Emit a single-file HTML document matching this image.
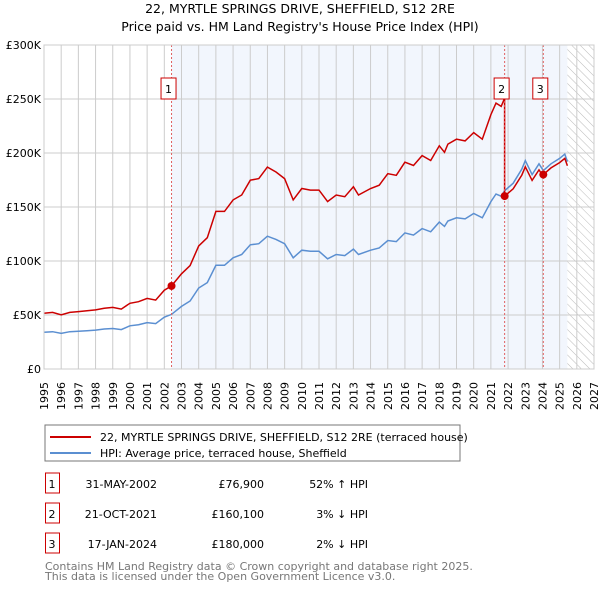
<!DOCTYPE html>
<html><head><meta charset="utf-8"><style>
body{margin:0;background:#fff;font-family:"Liberation Sans","DejaVu Sans",sans-serif}
svg text{font-family:"DejaVu Sans","Liberation Sans",sans-serif}
</style></head><body>
<svg width="600" height="590" xmlns="http://www.w3.org/2000/svg">
<defs><pattern id="hatch" width="6" height="6" patternUnits="userSpaceOnUse" patternTransform="rotate(-45)"><line x1="0" y1="0" x2="0" y2="6" stroke="#bbb" stroke-width="1"/></pattern></defs>
<text x="300" y="13" text-anchor="middle" font-size="12.5">22, MYRTLE SPRINGS DRIVE, SHEFFIELD, S12 2RE</text>
<text x="300" y="31" text-anchor="middle" font-size="12.5">Price paid vs. HM Land Registry's House Price Index (HPI)</text>
<g id="plot"></g>
<rect x="45" y="425" width="415" height="36" fill="#fff" stroke="#777"/>
<line x1="50" y1="437" x2="91" y2="437" stroke="#cc0000" stroke-width="2"/>
<text x="100" y="441" font-size="11">22, MYRTLE SPRINGS DRIVE, SHEFFIELD, S12 2RE (terraced house)</text>
<line x1="50" y1="453" x2="91" y2="453" stroke="#5b8fd1" stroke-width="2"/>
<text x="100" y="457" font-size="11">HPI: Average price, terraced house, Sheffield</text>
<g id="table" font-size="11"></g>
<text x="45" y="570" font-size="11" fill="#777">Contains HM Land Registry data © Crown copyright and database right 2025.</text>
<text x="45" y="580" font-size="11" fill="#777">This data is licensed under the Open Government Licence v3.0.</text>
</svg>
<script>
const hpiYears=[1995,1995.5,1996,1996.5,1997,1997.5,1998,1998.5,1999,1999.5,2000,2000.5,2001,2001.5,2002,2002.42,2003,2003.5,2004,2004.5,2005,2005.5,2006,2006.5,2007,2007.5,2008,2008.5,2009,2009.5,2010,2010.5,2011,2011.5,2012,2012.5,2013,2013.3,2014,2014.5,2015,2015.5,2016,2016.5,2017,2017.5,2018,2018.3,2018.5,2019,2019.5,2020,2020.5,2021,2021.3,2021.6,2021.8,2022.3,2022.8,2023,2023.4,2023.8,2024.05,2024.5,2025,2025.3,2025.45];
const hpiValues=[34,34.5,33,34.5,35,35.5,36,37,37.5,36.5,40,41,43,42,48,50.6,58,63,75,80,96,96,103,106,115,116,123,120,116,103,110,109,109,102,106,105,111,106,110,112,119,118,126,124,130,127,136,132,137,140,139,144,140,155,162,160,165,172,185,193,180,190,183.7,190,195,199,192];
const saleLabels=["1","2","3"];
const saleDates=[2002.42,2021.8,2024.05];
const salePrices=[76.9,160.1,180.0];
const saleDateText=["31-MAY-2002","21-OCT-2021","17-JAN-2024"];
const salePriceText=["£76,900","£160,100","£180,000"];
const saleHpiText=["52% ↑ HPI","3% ↓ HPI","2% ↓ HPI"];
const yTicks=[0,50,100,150,200,250,300];
const yTickLabels=["£0","£50K","£100K","£150K","£200K","£250K","£300K"];
const xMin=1995,xMax=2027,dataEnd=2025.45;
const L=44,R=594,T=45,B=369;
const X=v=>L+(v-xMin)/(xMax-xMin)*(R-L);
const Y=v=>B-v/300*(B-T);
const NS="http://www.w3.org/2000/svg";
const g=document.getElementById('plot');
function mk(t,a,p){const e=document.createElementNS(NS,t);for(const k in a)e.setAttribute(k,a[k]);(p||g).appendChild(e);return e;}
function hpiAt(t){for(let i=1;i<hpiYears.length;i++){if(t<=hpiYears[i]){const f=(t-hpiYears[i-1])/(hpiYears[i]-hpiYears[i-1]);return hpiValues[i-1]+f*(hpiValues[i]-hpiValues[i-1]);}}return hpiValues[hpiValues.length-1];}
let e=mk('rect',{x:X(saleDates[0]),y:T,width:X(dataEnd)-X(saleDates[0]),height:B-T,fill:'#f2f6fd'});

e=mk('rect',{x:X(dataEnd),y:T,width:R-X(dataEnd),height:B-T,fill:'url(#hatch)'});

for(let yr=xMin;yr<=xMax;yr++){e=mk('line',{x1:X(yr),x2:X(yr),y1:T,y2:B,stroke:'#ccc'});
 const wg=mk('g',{transform:'translate('+(X(yr)+4)+',382) rotate(-90)'});
 e=mk('text',{x:0,y:0,'font-size':11,'text-anchor':'end'},wg);e.textContent=yr;}
yTicks.forEach((v,i)=>{e=mk('line',{x1:L,x2:R,y1:Y(v),y2:Y(v),stroke:'#ccc'});
 e=mk('text',{x:L-3,y:Y(v)+4,'font-size':11,'text-anchor':'end'});e.textContent=yTickLabels[i];});
let d=hpiYears.map((t,i)=>(i?'L':'M')+X(t).toFixed(1)+','+Y(hpiValues[i]).toFixed(1)).join('');
e=mk('path',{d:d,fill:'none',stroke:'#5b8fd1','stroke-width':1.5});
const ratios=saleDates.map((t,i)=>salePrices[i]/hpiAt(t));
function ratioAt(t){let r=ratios[0];for(let i=0;i<saleDates.length;i++)if(t>=saleDates[i])r=ratios[i];return r;}
let pts=[];hpiYears.forEach((t,i)=>{pts.push([t,hpiValues[i]*ratioAt(t)]);});
saleDates.forEach((t,i)=>{if(i>0){pts.push([t-0.001,hpiAt(t)*ratios[i-1]]);}pts.push([t,salePrices[i]]);});
pts.sort((a,b)=>a[0]-b[0]);
d=pts.map((p,i)=>(i?'L':'M')+X(p[0]).toFixed(1)+','+Y(p[1]).toFixed(1)).join('');
e=mk('path',{d:d,fill:'none',stroke:'#cc0000','stroke-width':1.5});
saleDates.forEach((t,i)=>{
 e=mk('line',{x1:X(t),x2:X(t),y1:T,y2:B,stroke:'#e06060','stroke-dasharray':'2,2'});
 e=mk('circle',{cx:X(t),cy:Y(salePrices[i]),r:4,fill:'#cc0000'});
 e=mk('rect',{x:X(t)-10.5,y:78,width:15,height:21,fill:'#fff',stroke:'#cc0000'});
 e=mk('text',{x:X(t)-3,y:93,'font-size':11,'text-anchor':'middle'});e.textContent=saleLabels[i];
});
mk('rect',{x:L,y:T,width:R-L,height:B-T,fill:'none',stroke:'#ccc'});
const tb=document.getElementById('table');
saleLabels.forEach((s,i)=>{const y=484+i*30;
 e=mk('rect',{x:45.5,y:y-11,width:14,height:20,fill:'#fff',stroke:'#cc0000'},tb);
 e=mk('text',{x:52,y:y+4,'text-anchor':'middle'},tb);e.textContent=s;
 e=mk('text',{x:157,y:y+4,'text-anchor':'end'},tb);e.textContent=saleDateText[i];
 e=mk('text',{x:264,y:y+4,'text-anchor':'end'},tb);e.textContent=salePriceText[i];
 e=mk('text',{x:368,y:y+4,'text-anchor':'end'},tb);e.textContent=saleHpiText[i];
});
</script>
</body></html>
